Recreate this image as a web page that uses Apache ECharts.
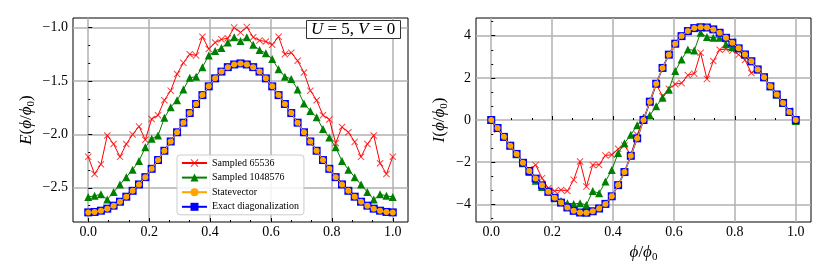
<!DOCTYPE html>
<html><head><meta charset="utf-8">
<script src="https://cdn.jsdelivr.net/npm/echarts@6/dist/echarts.min.js"></script>
<style>html,body{margin:0;padding:0;background:#fff}#c{width:830px;height:277px}</style>
</head><body><div id="c"></div>
<script>
const phi = [0, 0.0208, 0.0417, 0.0625, 0.0833, 0.1042, 0.125, 0.1458, 0.1667, 0.1875, 0.2083, 0.2292, 0.25, 0.2708, 0.2917, 0.3125, 0.3333, 0.3542, 0.375, 0.3958, 0.4167, 0.4375, 0.4583, 0.4792, 0.5, 0.5208, 0.5417, 0.5625, 0.5833, 0.6042, 0.625, 0.6458, 0.6667, 0.6875, 0.7083, 0.7292, 0.75, 0.7708, 0.7917, 0.8125, 0.8333, 0.8542, 0.875, 0.8958, 0.9167, 0.9375, 0.9583, 0.9792, 1];

const E_sampled65536 = [-2.21, -2.37, -2.28, -2.01, -2.09, -2.21, -2.09, -2.00, -1.925, -2.05, -1.855, -1.82, -1.68, -1.59, -1.435, -1.33, -1.25, -1.26, -1.085, -1.20, -1.14, -1.11, -1.10, -1.00, -1.045, -0.995, -1.09, -1.12, -1.13, -1.16, -1.085, -1.25, -1.235, -1.31, -1.42, -1.59, -1.68, -1.82, -1.86, -2.08, -1.93, -1.98, -2.07, -2.21, -2.09, -2.01, -2.27, -2.37, -2.21];
const E_sampled1048576 = [-2.585, -2.575, -2.56, -2.61, -2.54, -2.47, -2.40, -2.33, -2.25, -2.12, -2.04, -2.01, -1.845, -1.745, -1.68, -1.58, -1.47, -1.46, -1.37, -1.26, -1.22, -1.19, -1.14, -1.09, -1.125, -1.09, -1.16, -1.21, -1.24, -1.295, -1.39, -1.46, -1.48, -1.58, -1.71, -1.78, -1.84, -1.95, -2.03, -2.12, -2.25, -2.33, -2.40, -2.47, -2.54, -2.61, -2.56, -2.575, -2.585];
const E_statevector = [-2.73, -2.726, -2.714, -2.695, -2.667, -2.63, -2.583, -2.528, -2.468, -2.40, -2.322, -2.24, -2.153, -2.066, -1.98, -1.89, -1.80, -1.715, -1.632, -1.55, -1.475, -1.412, -1.37, -1.345, -1.335, -1.345, -1.37, -1.412, -1.475, -1.55, -1.632, -1.715, -1.80, -1.89, -1.98, -2.066, -2.153, -2.24, -2.322, -2.40, -2.468, -2.528, -2.583, -2.63, -2.667, -2.695, -2.714, -2.726, -2.73];
const E_exact = [-2.73, -2.726, -2.714, -2.695, -2.667, -2.63, -2.583, -2.528, -2.468, -2.40, -2.322, -2.24, -2.153, -2.066, -1.98, -1.89, -1.80, -1.715, -1.632, -1.55, -1.475, -1.412, -1.37, -1.345, -1.335, -1.345, -1.37, -1.412, -1.475, -1.55, -1.632, -1.715, -1.80, -1.89, -1.98, -2.066, -2.153, -2.24, -2.322, -2.40, -2.468, -2.528, -2.583, -2.63, -2.667, -2.695, -2.714, -2.726, -2.73];

const I_sampled65536 = [0, -0.45, -0.82, -1.25, -1.62, -2.05, -2.34, -2.13, -2.76, -3.24, -3.37, -3.32, -3.37, -2.84, -1.97, -3.16, -2.13, -2.13, -1.68, -1.65, -1.37, -1.21, -1.65, -0.70, 0.05, 0.80, 1.71, 1.13, 1.48, 1.70, 1.75, 2.13, 2.20, 3.19, 1.95, 2.80, 3.33, 3.37, 3.30, 3.10, 2.85, 2.23, 2.40, 2.05, 1.62, 1.22, 0.85, 0.45, 0];
const I_sampled1048576 = [0, -0.38, -0.80, -1.20, -1.62, -2.05, -2.47, -2.88, -3.18, -3.40, -3.71, -3.84, -3.95, -3.98, -3.95, -4.03, -3.37, -3.48, -2.92, -2.37, -1.57, -1.10, -0.70, -0.25, 0.12, 0.22, 0.65, 1.05, 1.44, 2.32, 2.87, 3.35, 3.30, 4.14, 3.94, 3.90, 3.90, 3.59, 3.46, 3.40, 3.11, 2.79, 2.40, 2.03, 1.60, 1.21, 0.81, 0.38, -0.05];
const I_statevector = [0, -0.38, -0.80, -1.22, -1.61, -2.03, -2.42, -2.78, -3.10, -3.40, -3.69, -3.92, -4.15, -4.31, -4.39, -4.40, -4.33, -4.20, -3.98, -3.62, -3.09, -2.47, -1.70, -0.87, 0, 0.87, 1.72, 2.47, 3.10, 3.62, 3.98, 4.22, 4.36, 4.40, 4.39, 4.30, 4.14, 3.90, 3.67, 3.40, 3.11, 2.79, 2.40, 2.03, 1.60, 1.21, 0.81, 0.38, 0];
const I_exact = [0, -0.38, -0.80, -1.22, -1.61, -2.03, -2.42, -2.78, -3.10, -3.40, -3.69, -3.92, -4.15, -4.31, -4.39, -4.40, -4.33, -4.20, -3.98, -3.62, -3.09, -2.47, -1.70, -0.87, 0, 0.87, 1.72, 2.47, 3.10, 3.62, 3.98, 4.22, 4.36, 4.40, 4.39, 4.30, 4.14, 3.90, 3.67, 3.40, 3.11, 2.79, 2.40, 2.03, 1.60, 1.21, 0.81, 0.38, 0];

const xMajorTicks = [0, 0.2, 0.4, 0.6, 0.8, 1.0];
const xMinorTicks = [0.0667, 0.1333, 0.2667, 0.3333, 0.4667, 0.5333, 0.6667, 0.7333, 0.8667, 0.9333];
const eMajorTicks = [-2.5, -2.0, -1.5, -1.0];
const eMinorTicks = [-2.6667, -2.3333, -2.1667, -1.8333, -1.6667, -1.3333, -1.1667];
const iMajorTicks = [-4, -2, 0, 2, 4];
const iMinorTicks = [-4.6667, -3.3333, -2.6667, -1.3333, -0.6667, 0.6667, 1.3333, 2.6667, 3.3333, 4.6667];

const seriesNames = ['Sampled 65536', 'Sampled 1048576', 'Statevector', 'Exact diagonalization'];

const SERIF = '"Liberation Serif", "Times New Roman", serif';
const minus = v => (v < 0 ? '\u2212' : '') ;
const fmt1 = v => minus(v) + Math.abs(v).toFixed(1);
const fmt0 = v => minus(v) + Math.abs(Math.round(v));

const nameRich = {
  i: {fontStyle: 'italic', fontFamily: SERIF, fontSize: 17, lineHeight: 20, color: '#000'},
  n: {fontFamily: SERIF, fontSize: 17, lineHeight: 20, color: '#000'},
  s: {fontFamily: SERIF, fontSize: 11, lineHeight: 9, verticalAlign: 'bottom', color: '#000'}
};
const GRIDLINE = {color: '#b0b0b0', width: 1.5};

function xAxesFor(g, name) {
  return [{
    type: 'value', gridIndex: g, min: -0.05, max: 1.05, position: 'bottom',
    axisLine: {show: false},
    axisTick: {show: true, inside: true, length: 4, customValues: xMajorTicks, lineStyle: {color: '#000', width: 1}},
    axisLabel: {show: true, customValues: xMajorTicks, formatter: fmt1, margin: 3, color: '#000', fontFamily: SERIF, fontSize: 14},
    splitLine: {show: true, lineStyle: GRIDLINE},
    name: name || '', nameLocation: 'middle', nameGap: 17,
    nameTextStyle: {fontFamily: SERIF, fontSize: 17, color: '#000', rich: nameRich}
  }, {
    type: 'value', gridIndex: g, min: -0.05, max: 1.05, position: 'bottom',
    axisLine: {show: false},
    axisTick: {show: true, inside: true, length: 2, customValues: xMinorTicks, lineStyle: {color: '#000', width: 1}},
    axisLabel: {show: false}, splitLine: {show: false}
  }];
}
function yAxesFor(g, min, max, major, minor, fmt, name, gap) {
  return [{
    type: 'value', gridIndex: g, min: min, max: max, position: 'left',
    axisLine: {show: false},
    axisTick: {show: true, inside: true, length: 4, customValues: major, lineStyle: {color: '#000', width: 1}},
    axisLabel: {show: true, customValues: major, formatter: fmt, margin: 5, color: '#000', fontFamily: SERIF, fontSize: 14},
    splitLine: {show: true, lineStyle: GRIDLINE},
    name: name, nameLocation: 'middle', nameGap: gap, nameRotate: 90,
    nameTextStyle: {fontFamily: SERIF, fontSize: 17, color: '#000', rich: nameRich}
  }, {
    type: 'value', gridIndex: g, min: min, max: max, position: 'left',
    axisLine: {show: false},
    axisTick: {show: true, inside: true, length: 2, customValues: minor, lineStyle: {color: '#000', width: 1}},
    axisLabel: {show: false}, splitLine: {show: false}
  }];
}

const XPATH = 'path://M0,1L1,0L5,4L9,0L10,1L6,5L10,9L9,10L5,6L1,10L0,9L4,5Z';
const zip = ys => phi.map((x, i) => [x, ys[i]]);

function panelSeries(ax, s65, s1m, sv, ed) {
  const base = {type: 'line', xAxisIndex: ax, yAxisIndex: ax, animation: false, emphasis: {disabled: true}, silent: true};
  return [
    Object.assign({}, base, {name: seriesNames[0], data: zip(s65), symbol: XPATH, symbolSize: 7,
      itemStyle: {color: '#ff0000', opacity: 0.75}, lineStyle: {color: '#ff0000', width: 1}, z: 2}),
    Object.assign({}, base, {name: seriesNames[1], data: zip(s1m), symbol: 'triangle', symbolSize: 8,
      itemStyle: {color: '#008000'}, lineStyle: {color: '#008000', width: 1}, z: 3}),
    Object.assign({}, base, {name: seriesNames[3], data: zip(ed), symbol: 'rect', symbolSize: 8,
      itemStyle: {color: '#0000ff'}, lineStyle: {color: '#0000ff', width: 1.5}, z: 4}),
    Object.assign({}, base, {name: seriesNames[2], data: zip(sv), symbol: 'circle', symbolSize: 6,
      itemStyle: {color: '#ffa500'}, lineStyle: {color: '#ffa500', width: 1}, z: 5})
  ];
}

const chart = echarts.init(document.getElementById('c'), null, {renderer: 'canvas'});
chart.setOption({
  animation: false,
  backgroundColor: '#fff',
  textStyle: {fontFamily: SERIF},
  title: {
    text: '{i|U} = 5, {i|V} = 0', left: 306, top: 20, padding: [0, 5, 0, 5],
    borderColor: '#333', borderWidth: 1, backgroundColor: '#fff',
    textStyle: {fontFamily: SERIF, fontSize: 17, fontWeight: 'normal', color: '#000', lineHeight: 19,
      rich: {i: {fontStyle: 'italic', fontFamily: SERIF, fontSize: 17, lineHeight: 19, color: '#000'}}}
  },
  legend: {
    data: seriesNames, left: 177, top: 155, orient: 'vertical',
    itemWidth: 25, itemHeight: 10, itemGap: 4.6, padding: [3, 5, 3, 4],
    backgroundColor: 'rgba(255,255,255,0.85)', borderColor: '#cccccc', borderWidth: 1, borderRadius: 3,
    textStyle: {fontFamily: SERIF, fontSize: 10, color: '#000'}, selectedMode: false, z: 10
  },
  grid: [
    {left: 73, top: 18, width: 335, height: 204, show: true, borderColor: '#000', borderWidth: 1, backgroundColor: 'transparent', outerBoundsMode: 'none', containLabel: false},
    {left: 476, top: 18, width: 335, height: 204, show: true, borderColor: '#000', borderWidth: 1, backgroundColor: 'transparent', outerBoundsMode: 'none', containLabel: false}
  ],
  xAxis: [].concat(xAxesFor(0, ''), xAxesFor(1, '{i|ϕ}{n|/}{i|ϕ}{s|0}')),
  yAxis: [].concat(
    yAxesFor(0, -2.82, -0.91, eMajorTicks, eMinorTicks, fmt1, '{i|E}{n|(}{i|ϕ}{n|/}{i|ϕ}{s|0}{n|)}', 36),
    yAxesFor(1, -4.84, 4.84, iMajorTicks, iMinorTicks, fmt0, '{i|I}{n|(}{i|ϕ}{n|/}{i|ϕ}{s|0}{n|)}', 26)
  ),
  series: [].concat(
    panelSeries(0, E_sampled65536, E_sampled1048576, E_statevector, E_exact),
    panelSeries(2, I_sampled65536, I_sampled1048576, I_statevector, I_exact)
  )
});
</script>
</body></html>
